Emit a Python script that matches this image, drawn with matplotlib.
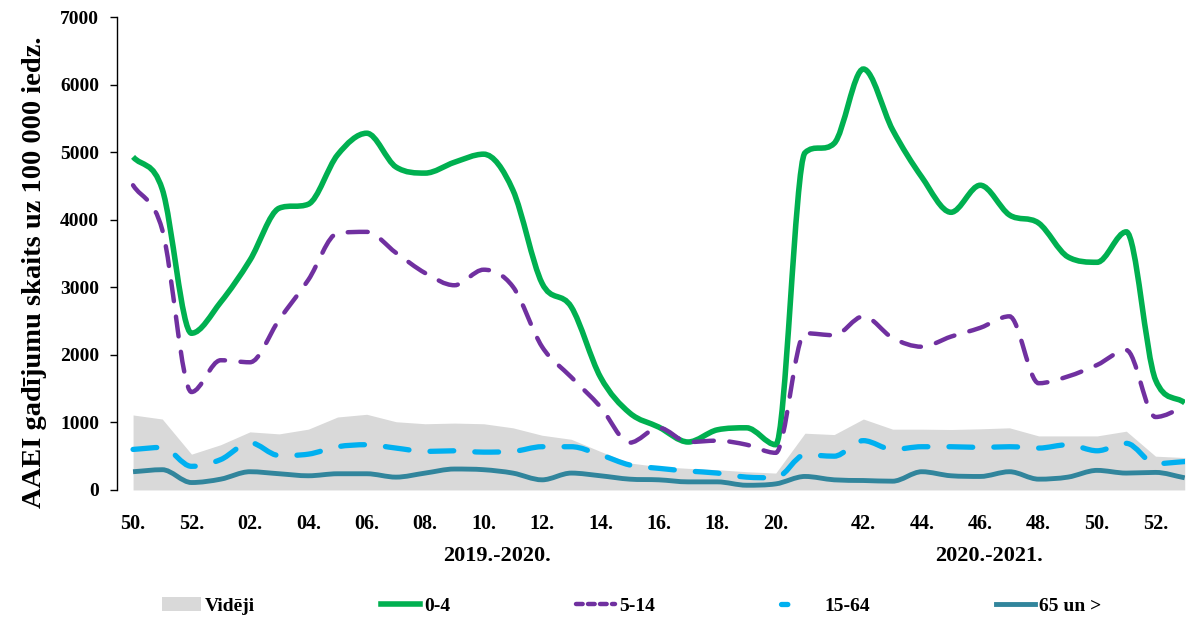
import matplotlib
matplotlib.use("Agg")
import matplotlib.pyplot as plt
from matplotlib.path import Path
from matplotlib.patches import PathPatch, Patch
from matplotlib.lines import Line2D
import numpy as np

# ---- data ----
weeks = ["50", "51", "52", "01", "02", "03", "04", "05", "06", "07", "08", "09", "10",
         "11", "12", "13", "14", "15", "16", "17", "18", "19", "20",
         "40", "41", "42", "43", "44", "45", "46", "47", "48", "49", "50", "51", "52", "53"]
tick_weeks = ["50.", "52.", "02.", "04.", "06.", "08.", "10.", "12.", "14.", "16.", "18.", "20.",
              "42.", "44.", "46.", "48.", "50.", "52."]
tick_idx = [0, 2, 4, 6, 8, 10, 12, 14, 16, 18, 20, 22, 25, 27, 29, 31, 33, 35]
seasons = ["2019.-2020.", "2020.-2021."]

videji = [1110, 1050, 530, 670, 860, 830, 900, 1080, 1120, 1010, 980, 990, 980,
          920, 810, 750, 570, 400, 345, 320, 300, 270, 250,
          840, 820, 1050, 900, 900, 895, 905, 920, 800, 800, 800, 870, 500, 480]
age_0_4 = [4930, 4450, 2320, 2780, 3400, 4170, 4230, 4960, 5280, 4780, 4690, 4850, 4970,
           4440, 3060, 2710, 1670, 1140, 930, 710, 890, 920, 670,
           4990, 5130, 6230, 5330, 4630, 4110, 4510, 4070, 3950, 3450, 3370, 3820, 1630, 1290]
age_5_14 = [4510, 3850, 1450, 1920, 1890, 2520, 3110, 3800, 3820, 3510, 3210, 3030, 3260,
            3010, 2120, 1670, 1230, 700, 920, 710, 730, 670, 550,
            2320, 2290, 2570, 2250, 2120, 2270, 2400, 2570, 1580, 1680, 1850, 2070, 1080, 1230]
age_15_64 = [600, 630, 350, 450, 700, 510, 530, 640, 670, 620, 570, 580, 560,
             570, 640, 640, 520, 370, 320, 280, 250, 190, 180,
             520, 500, 730, 600, 640, 640, 630, 640, 620, 670, 580, 690, 390, 420]
age_65 = [270, 300, 110, 160, 270, 240, 210, 240, 240, 190, 250, 310, 300,
          250, 150, 250, 210, 160, 150, 120, 120, 70, 90,
          200, 150, 140, 130, 270, 210, 200, 270, 160, 190, 290, 250, 260, 180]

series_names = ["Vidēji", "0-4", "5-14", "15-64", "65 un >"]

plt.rcParams['font.family'] = ['Liberation Serif', 'DejaVu Serif']
plt.rcParams['font.weight'] = 'bold'


def smooth_path(xs, ys):
    """Monotone cubic (Fritsch-Carlson) curve through the data, as Bezier path."""
    xs = np.asarray(xs, float)
    ys = np.asarray(ys, float)
    n = len(ys)
    d = np.diff(ys) / np.diff(xs)
    m = np.zeros(n)
    m[0] = d[0]
    m[-1] = d[-1]
    for i in range(1, n - 1):
        if d[i - 1] * d[i] <= 0:
            m[i] = 0.0
        else:
            v = (d[i - 1] + d[i]) / 2.0
            lim = 3 * min(abs(d[i - 1]), abs(d[i]))
            m[i] = np.sign(v) * min(abs(v), lim)
    verts = [(xs[0], ys[0])]
    codes = [Path.MOVETO]
    for i in range(n - 1):
        h = xs[i + 1] - xs[i]
        verts += [(xs[i] + h / 3, ys[i] + m[i] * h / 3),
                  (xs[i + 1] - h / 3, ys[i + 1] - m[i + 1] * h / 3),
                  (xs[i + 1], ys[i + 1])]
        codes += [Path.CURVE4] * 3
    return Path(verts, codes)


fig = plt.figure(figsize=(11.89, 6.21), dpi=100)
ax = fig.add_axes([0.0984, 0.211, 0.898, 0.7616])

x = np.arange(len(weeks))

c_gray = "#D9D9D9"
c_green = "#00B050"
c_purple = "#7030A0"
c_blue = "#00B0F0"
c_teal = "#31859C"

ax.fill_between(x, 0, videji, color=c_gray, lw=0, zorder=1)

styles = [
    (age_0_4, c_green, 4.0, None),
    (age_5_14, c_purple, 3.2, (4.5, 3.5)),
    (age_15_64, c_blue, 3.8, (4.5, 4.0)),
    (age_65, c_teal, 3.5, None),
]
for k, (vals, col, lw, dash) in enumerate(styles):
    p = PathPatch(smooth_path(x, vals), fill=False, edgecolor=col, lw=lw, zorder=2 + k)
    if dash is not None:
        p.set_linestyle((0, dash))
        p.set_capstyle('round')
    ax.add_patch(p)

ax.set_xlim(-0.55, 36.0)
ax.set_ylim(0, 7000)
ax.set_yticks(range(0, 7001, 1000))
ax.set_xticks(tick_idx)
ax.set_xticklabels(tick_weeks)
ax.tick_params(axis='x', length=0, pad=17, labelsize=14.5)
ax.tick_params(axis='y', direction='out', length=5, width=1, pad=8, labelsize=14)
for s in ['top', 'right', 'bottom']:
    ax.spines[s].set_visible(False)
ax.spines['left'].set_linewidth(1)
ax.set_ylabel("AAEI gadījumu skaits uz 100 000 iedz.", fontsize=20.5, fontweight='bold')
ax.yaxis.set_label_coords(-0.066, 0.46)

trans = ax.get_xaxis_transform()
ax.text(12.47, -0.14, seasons[0], transform=trans, ha='center', va='center', fontsize=16, fontweight='bold')
ax.text(29.3, -0.14, seasons[1], transform=trans, ha='center', va='center', fontsize=16, fontweight='bold')

handles = [
    Patch(facecolor=c_gray, edgecolor='none'),
    Line2D([], [], color=c_green, lw=4),
    Line2D([], [], color=c_purple, lw=3.2, ls=(0, (1.5, 1.2)), dash_capstyle='round'),
    Line2D([], [], color=c_blue, lw=3.8, ls=(0, (1.2, 12)), dash_capstyle='round'),
    Line2D([], [], color=c_teal, lw=3.5),
]
fig.legend(handles, series_names, loc='center left', ncol=5, frameon=False,
           bbox_to_anchor=(0.1216, 0.024, 0.819, 0.0), mode='expand',
           prop={'family': ['Liberation Serif'], 'weight': 'bold', 'size': 14},
           handlelength=2.0, handletextpad=0.2)

fig.savefig("out.png", dpi=100)
